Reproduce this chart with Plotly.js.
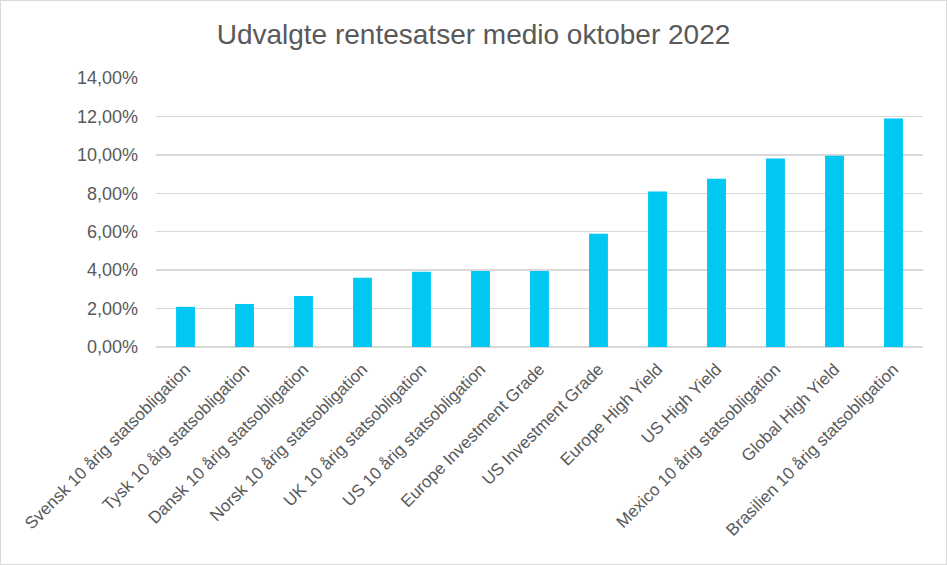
<!DOCTYPE html>
<html>
<head>
<meta charset="utf-8">
<script src="https://cdn.plot.ly/plotly-3.0.1.min.js"></script>
<style>
html,body{margin:0;padding:0;background:#fff;}
#chart{width:947px;height:565px;box-sizing:border-box;border:1px solid #d9d9d9;}
</style>
</head>
<body>
<div id="chart"></div>
<script>
const categories = [
  "Svensk 10 årig statsobligation",
  "Tysk 10 åig statsobligation",
  "Dansk 10 årig statsobligation",
  "Norsk 10 årig statsobligation",
  "UK 10 årig statsobligation",
  "US 10 årig statsobligation",
  "Europe Investment Grade",
  "US Investment Grade",
  "Europe High Yield",
  "US High Yield",
  "Mexico 10 årig statsobligation",
  "Global High Yield",
  "Brasilien 10 årig statsobligation"
];
const rates = [2.09, 2.24, 2.66, 3.60, 3.91, 3.96, 3.96, 5.89, 8.09, 8.76, 9.81, 9.96, 11.89];
const yTicks = [0, 2, 4, 6, 8, 10, 12, 14];
const yTickText = yTicks.map(v => v.toFixed(2).replace('.', ',') + '%');

const trace = {
  type: 'bar',
  x: categories,
  y: rates,
  marker: {color: '#00c8f3'},
  hoverinfo: 'x+y'
};

const layout = {
  width: 945,
  height: 563,
  font: {family: 'Liberation Sans, Arial, sans-serif', color: '#595959', size: 17},
  title: {
    text: 'Udvalgte rentesatser medio oktober 2022',
    font: {size: 28, color: '#595959'},
    x: 0.5, xanchor: 'center',
    y: 1 - 33/563, yanchor: 'middle'
  },
  margin: {l: 155, r: 23, t: 77, b: 217},
  bargap: 0.68,
  showlegend: false,
  plot_bgcolor: '#fff',
  paper_bgcolor: '#fff',
  xaxis: {
    type: 'category',
    tickangle: -45,
    showgrid: false,
    showline: false,
    ticks: '',
    ticklabelstandoff: 8,
    tickfont: {size: 17, color: '#595959'},
    automargin: false
  },
  yaxis: {
    range: [0, 14],
    tickvals: yTicks,
    ticktext: yTickText,
    showgrid: true,
    gridcolor: '#d9d9d9',
    gridwidth: 1.3,
    zeroline: true,
    zerolinecolor: '#d9d9d9',
    zerolinewidth: 1.3,
    showline: false,
    ticks: '',
    ticklabelstandoff: 17,
    tickfont: {size: 18, color: '#595959'},
    automargin: false
  }
};

Plotly.newPlot('chart', [trace], layout, {displayModeBar: false, staticPlot: true});
</script>
</body>
</html>
